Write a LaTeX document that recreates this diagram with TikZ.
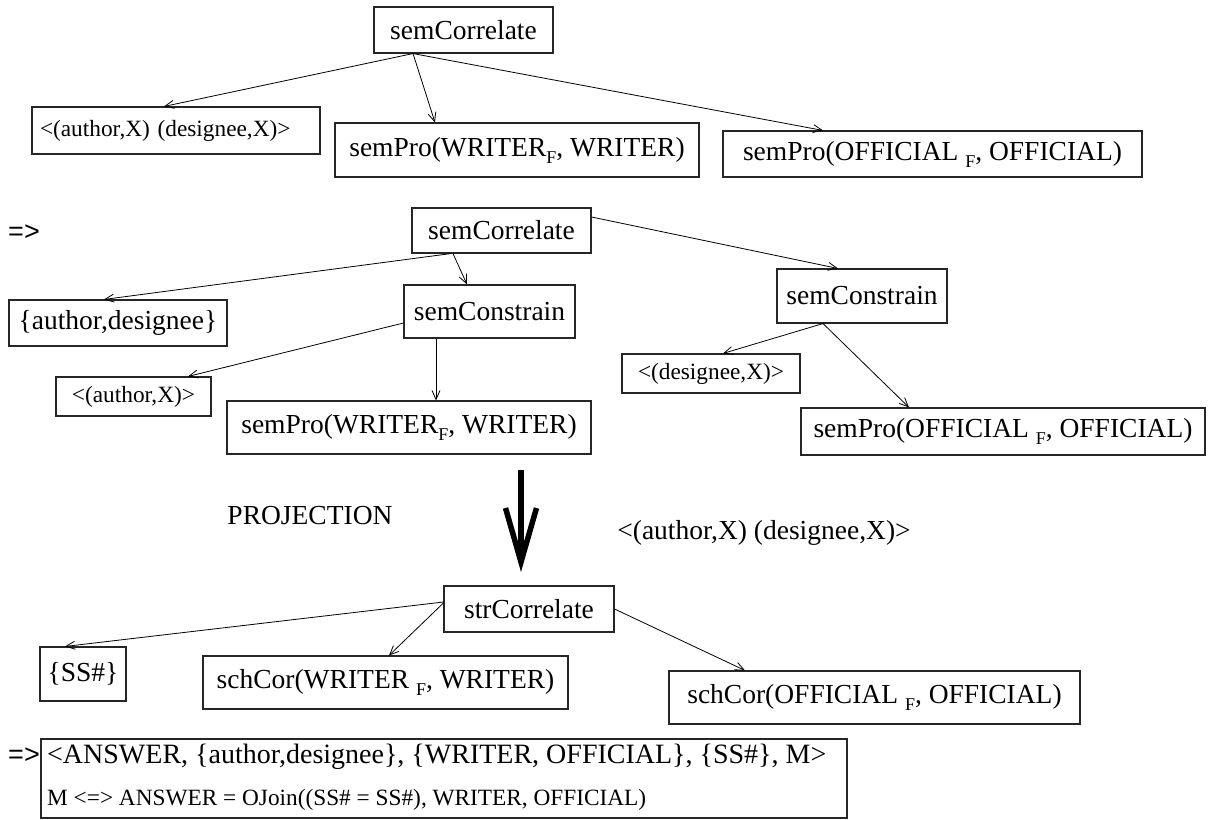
\documentclass[tikz,border=0pt]{standalone}
\usepackage{fontspec}
\setmainfont{Liberation Serif}
\newfontfamily\sansf{Liberation Sans}
\usetikzlibrary{arrows.meta}
\newcommand{\mainsz}{\fontsize{27.5}{30}\selectfont}
\newcommand{\smallsz}{\fontsize{23.3}{26}\selectfont}
\newcommand{\fsub}[1]{{\fontsize{18}{18}\selectfont\raisebox{-7pt}{#1}}}
\begin{document}
\begin{tikzpicture}[x=1pt,y=-1pt,
  box/.style={draw=black!85, line width=1.1pt, inner sep=0pt, font=\mainsz},
  conn/.style={draw, line width=0.8pt, -{Straight Barb[length=9pt,width=8pt]}},
  plain/.style={inner sep=0pt, font=\mainsz},
  impl/.style={inner sep=0pt, font=\sansf\fontsize{27}{30}\selectfont}]
\useasboundingbox (0,0) rectangle (1214,819);

% ---- top tree
\node[box, minimum width=179, minimum height=46] (sc1) at (463.5,30) {semCorrelate};
\node[box, font=\smallsz, minimum height=47, text width=272, inner xsep=8, align=left] (tl) at (176,130.5) {<(author,X) (designee,X)>};
\node[box, minimum width=364, minimum height=54] (w1) at (517,150) {semPro(WRITER\fsub{F}, WRITER)};
\node[box, minimum width=419, minimum height=46] (o1) at (932.5,154) {semPro(OFFICIAL \fsub{F}, OFFICIAL)};
\draw[conn] ([xshift=-50.5]sc1.south) -- ([xshift=-12]tl.north);
\draw[conn] ([xshift=-50.5]sc1.south) -- ([xshift=-82]w1.north);
\draw[conn] ([xshift=-50.5]sc1.south) -- ([xshift=-109.5]o1.north);

% ---- middle tree
\node[impl] (imp1) at (24,233) {=>};
\node[box, minimum width=179, minimum height=45] (sc2) at (501.5,230.5) {semCorrelate};
\node[box, minimum width=218, minimum height=46] (ad) at (118,323) {\{author,designee\}};
\node[box, minimum width=171, minimum height=53] (scL) at (489.5,311.5) {semConstrain};
\node[box, font=\smallsz, minimum width=155, minimum height=39] (ax) at (133.5,396.5) {<(author,X)>};
\node[box, minimum width=364, minimum height=53] (w2) at (409,427.5) {semPro(WRITER\fsub{F}, WRITER)};
\node[box, minimum width=170, minimum height=54] (scR) at (862,296) {semConstrain};
\node[box, font=\smallsz, minimum width=178, minimum height=39] (dx) at (711,373.5) {<(designee,X)>};
\node[box, minimum width=404, minimum height=47] (o2) at (1003,431.5) {semPro(OFFICIAL \fsub{F}, OFFICIAL)};
\draw[conn] ([xshift=-50.5]sc2.south) -- ([xshift=-14]ad.north);
\draw[conn] ([xshift=-48.5]sc2.south) -- ([xshift=-22.5]scL.north);
\draw[conn] ([yshift=13.5]sc2.east) -- ([xshift=-24]scR.north);
\draw[conn] ([yshift=-11.5]scL.west) -- ([xshift=54.5]ax.north);
\draw[conn] ([xshift=-53.5]scL.south) -- ([xshift=27]w2.north);
\draw[conn] ([xshift=-39]scR.south) -- ([xshift=12]dx.north);
\draw[conn] ([xshift=-39]scR.south) -- ([xshift=-94]o2.north);

% ---- projection arrow
\node[plain] (proj) at (310,516) {PROJECTION};
\node[plain] (lab) at (764,533) {<(author,X) (designee,X)>};
\coordinate (bt) at (521,470);
\coordinate (bb) at (521,562);
\coordinate (wl) at (505.5,508);
\coordinate (wr) at (536.5,508);
\draw[line width=5.5pt] (bt) -- (bb);
\draw[line width=5.5pt, line join=miter, miter limit=20] (wl) -- (bb) -- (wr);

% ---- bottom tree
\node[box, minimum width=170, minimum height=46] (stc) at (529,609) {strCorrelate};
\node[box, minimum width=86, minimum height=54] (ss) at (83,674) {\{SS\#\}};
\node[box, minimum width=365, minimum height=53] (cw) at (385.5,682.5) {schCor(WRITER \fsub{F}, WRITER)};
\node[box, minimum width=411, minimum height=53] (co) at (874.5,697.5) {schCor(OFFICIAL \fsub{F}, OFFICIAL)};
\draw[conn] ([yshift=7]stc.west) -- ([xshift=-18]ss.north);
\draw[conn] ([yshift=6]stc.west) -- ([xshift=3.5]cw.north);
\draw[conn] (stc.east) -- ([xshift=-129.5]co.north);

% ---- result
\node[impl] (imp2) at (24,756) {=>};
\node[box, minimum width=806, minimum height=79] (ans) at (444,778.5) {};
\node[plain, font=\fontsize{28}{30}\selectfont, anchor=west] (ans1) at (47,757) {<ANSWER, \{author,designee\}, \{WRITER, OFFICIAL\}, \{SS\#\}, M>};
\node[plain, font=\smallsz, anchor=west] (ans2) at (47,800) {M <=> ANSWER = OJoin((SS\# = SS\#), WRITER, OFFICIAL)};
\end{tikzpicture}
\end{document}
